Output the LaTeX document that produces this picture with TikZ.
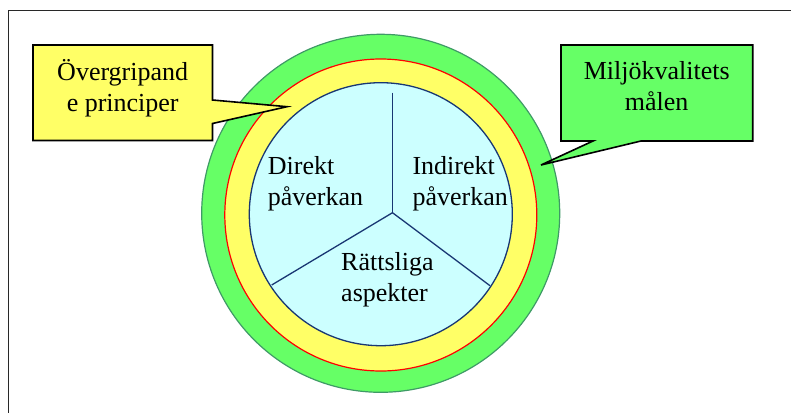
\documentclass[tikz,border=0pt]{standalone}
\usepackage{fontspec}
\setmainfont{Liberation Serif}
\definecolor{ringgreen}{HTML}{66FF66}
\definecolor{ringedge}{HTML}{3F9A66}
\definecolor{ringyellow}{HTML}{FFFF66}
\definecolor{corecyan}{HTML}{CCFFFF}
\definecolor{corenavy}{RGB}{25,55,115}
\definecolor{framegray}{RGB}{40,40,40}
\tikzset{
  ring/.style={circle, inner sep=0pt, outer sep=0pt},
  label26/.style={inner sep=0pt, font=\fontsize{26}{31}\selectfont},
  callout/.style={draw=black, line width=1.6pt, line join=miter},
  spoke/.style={draw=corenavy, line width=1.3pt},
}
\begin{document}
\begin{tikzpicture}[x=1pt, y=-1pt]
\useasboundingbox (0,0) rectangle (791,412);

% outer frame (continues past the right and bottom edges)
\draw[framegray, line width=1.5pt] (8.5,420) -- (8.5,10.7) -- (800,10.7);

% concentric rings
\node[ring, fill=ringgreen, draw=ringedge, line width=1.2pt, minimum size=358pt] (outer) at (380.7,213.3) {};
\node[ring, fill=ringyellow, draw=red, line width=1.2pt, minimum size=312pt] (middle) at (380.8,215) {};
\node[ring, fill=corecyan, draw=corenavy, line width=1.3pt, minimum size=263pt] (core) at (380.8,214.2) {};

% three sectors of the core
\coordinate (hub) at (392.5,212.7);
\coordinate (sptop) at (392.5,92.5);
\coordinate (spleft) at (271.7,285);
\coordinate (spright) at (490,285.7);
\draw[spoke] (sptop) -- (hub);
\draw[spoke] (hub) -- (spleft);
\draw[spoke] (hub) -- (spright);

\node[label26, anchor=base west] (direkt) at (267.7,174)
  {\begin{tabular}[t]{@{}l@{}}Direkt\\påverkan\end{tabular}};
\node[label26, anchor=base west] (indirekt) at (412.3,174)
  {\begin{tabular}[t]{@{}l@{}}Indirekt\\påverkan\end{tabular}};
\node[label26, anchor=base west] (ratt) at (341,270)
  {\begin{tabular}[t]{@{}l@{}}Rättsliga\\aspekter\end{tabular}};

% callouts
\coordinate (ytip) at (287,106.7);
\draw[callout, fill=ringyellow] (33,45) -- (212.5,45) -- (212.5,100) -- (ytip)
  -- (212.5,123.5) -- (212.5,140.5) -- (33,140.5) -- cycle;
\node[label26, anchor=base] (principer) at (122.7,80)
  {\begin{tabular}[t]{@{}c@{}}Övergripand\\e principer\end{tabular}};

\coordinate (gtip) at (541,165);
\draw[callout, fill=ringgreen] (561,45) -- (752.7,45) -- (752.7,141) -- (641,141)
  -- (gtip) -- (593,141) -- (561,141) -- cycle;
\node[label26, anchor=base] (malen) at (656.7,79.3)
  {\begin{tabular}[t]{@{}c@{}}Miljökvalitets\\målen\end{tabular}};
\end{tikzpicture}
\end{document}
